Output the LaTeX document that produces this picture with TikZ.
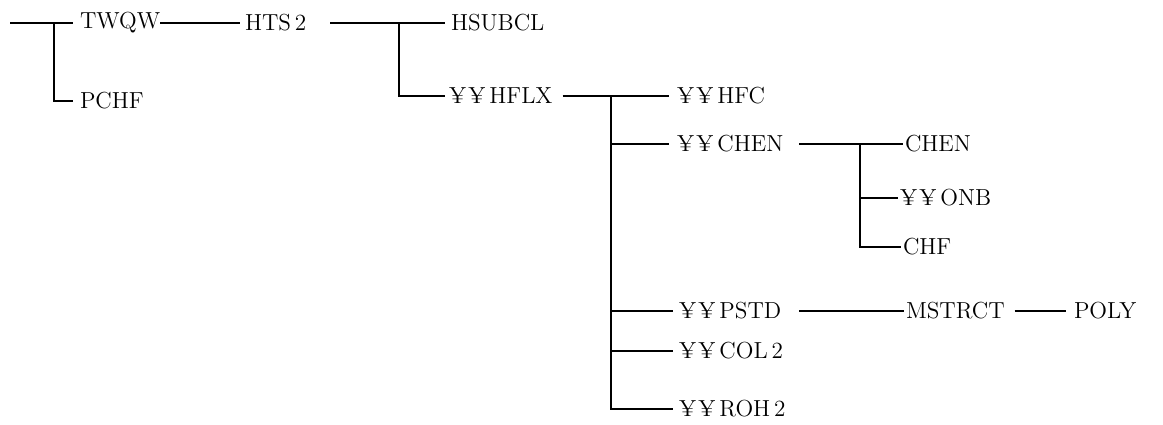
\documentclass[tikz,border=0pt]{standalone}
\usepackage{fontspec}
\newcommand{\yy}{¥\kern1.2pt¥\kern2pt}
\begin{document}
\begin{tikzpicture}[x=0.5pt,y=-0.5pt,
  conn/.style={line width=1.2pt},
  lbl/.style={anchor=west,inner sep=0pt,outer sep=0pt,font=\fontsize{11.6}{13}\selectfont}]
\useasboundingbox (0,0) rectangle (1163,424);
% junctions
\coordinate (root) at (10,23);
\coordinate (j1) at (54,23);
\coordinate (j2) at (399,23);
\coordinate (j3) at (611,96);
\coordinate (j4) at (860,144);
% labels
\node[lbl] (twqw) at (80,23) {TWQW};
\node[lbl] (pchf) at (80,101) {PCHF};
\node[lbl] (hts) at (245,23) {HTS\,2};
\node[lbl] (hsubcl) at (451,23) {HSUBCL};
\node[lbl] (hflx) at (449,96) {\yy HFLX};
\node[lbl] (hfc) at (677,96) {\yy HFC};
\node[lbl] (chen1) at (677,144) {\yy CHEN};
\node[lbl] (chen) at (905,144) {CHEN};
\node[lbl] (onb) at (900,198) {\yy ONB};
\node[lbl] (chf) at (903,247) {CHF};
\node[lbl] (pstd) at (679,311) {\yy PSTD};
\node[lbl] (mstrct) at (906,311) {MSTRCT};
\node[lbl] (poly) at (1074,311) {POLY};
\node[lbl] (col2) at (679,351) {\yy COL\,2};
\node[lbl] (roh2) at (679,409) {\yy ROH\,2};
% connectors
\draw[conn] (root) -- (j1) -- ([xshift=-3.5pt]twqw.west);
\draw[conn] (j1) |- ([xshift=-3.5pt]pchf.west);
\draw[conn] (twqw.east) -- ([xshift=-2.5pt]hts.west);
\draw[conn] ([xshift=12pt]hts.east) -- (j2) -- ([xshift=-3pt]hsubcl.west);
\draw[conn] (j2) |- ([xshift=-2pt]hflx.west);
\draw[conn] ([xshift=5pt]hflx.east) -- (j3) -- ([xshift=-4pt]hfc.west);
\draw[conn] (j3) |- ([xshift=-3pt]roh2.west);
\draw[conn] (j3 |- chen1.west) -- ([xshift=-4pt]chen1.west);
\draw[conn] (j3 |- pstd.west) -- ([xshift=-3pt]pstd.west);
\draw[conn] (j3 |- col2.west) -- ([xshift=-3pt]col2.west);
\draw[conn] ([xshift=8pt]chen1.east) -- (j4) -- ([xshift=-1pt]chen.west);
\draw[conn] (j4) |- ([xshift=-1pt]chf.west);
\draw[conn] (j4 |- onb.west) -- ([xshift=-1pt]onb.west);
\draw[conn] ([xshift=9pt]pstd.east) -- ([xshift=-1pt]mstrct.west);
\draw[conn] ([xshift=5pt]mstrct.east) -- ([xshift=-4pt]poly.west);
\end{tikzpicture}
\end{document}
